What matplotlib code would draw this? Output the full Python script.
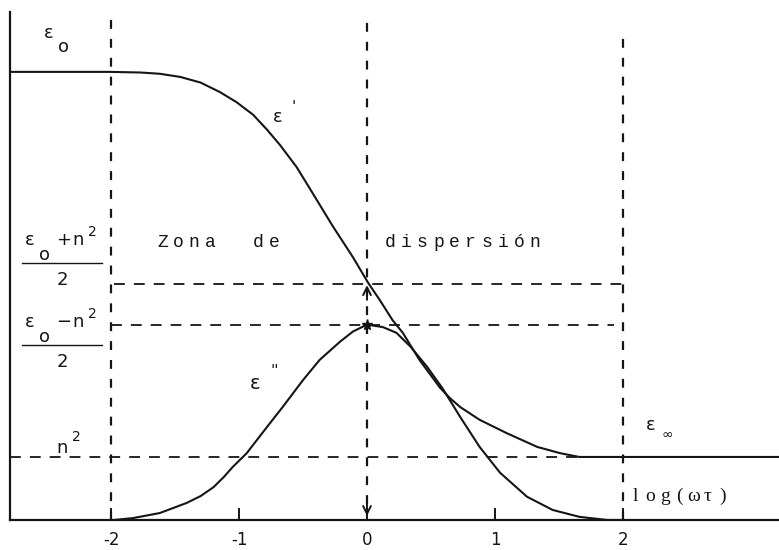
import matplotlib
matplotlib.use("Agg")
import matplotlib.pyplot as plt

# Debye dispersion sketch: ε' and ε'' against log(ωτ), n² taken as one unit.
X_TICKS = [-2, -1, 0, 1, 2]
X_TICK_LABELS = ["-2", "-1", "0", "1", "2"]

EPS_STATIC = 7.11      # ε0 plateau
EPS_OPTICAL = 1.0      # n² plateau
EPS_MID = 3.75         # (ε0+n²)/2 guide
EPS_HALF = 3.10        # (ε0-n²)/2 guide, top of the loss peak

EPS_REAL_X = [-2.79, -2.01, -1.77, -1.62, -1.46, -1.30, -1.15, -1.02, -0.89,
              -0.78, -0.68, -0.55, -0.42, -0.27, -0.11, 0.01, 0.10, 0.20,
              0.28, 0.41, 0.57, 0.65, 0.73, 0.88, 1.09, 1.33, 1.51, 1.66, 3.22]
EPS_REAL_Y = [7.11, 7.11, 7.10, 7.08, 7.03, 6.94, 6.79, 6.63, 6.43,
              6.19, 5.95, 5.60, 5.17, 4.67, 4.17, 3.76, 3.49, 3.17,
              2.97, 2.54, 2.10, 1.93, 1.79, 1.59, 1.38, 1.16, 1.06, 1.00, 1.00]

EPS_LOSS_X = [-1.98, -1.83, -1.62, -1.41, -1.30, -1.20, -1.12, -1.05, -0.94,
              -0.78, -0.66, -0.50, -0.37, -0.21, -0.11, 0.00, 0.125, 0.23, 0.34,
              0.47, 0.59, 0.73, 0.88, 1.04, 1.25, 1.45, 1.66, 1.88, 2.00]
EPS_LOSS_Y = [0.00, 0.03, 0.11, 0.27, 0.38, 0.52, 0.68, 0.84, 1.06,
              1.48, 1.79, 2.22, 2.54, 2.83, 2.99, 3.10, 3.06, 2.97, 2.75,
              2.43, 2.09, 1.63, 1.16, 0.75, 0.37, 0.16, 0.05, 0.00, 0.00]

X_LEFT, X_RIGHT = -2.79, 3.22
Y_TOP = 8.06

INK = "#151515"
MONO = "Liberation Mono"
SERIF = "Liberation Serif"


def spaced(ax, x0, y, text, step, **kw):
    """Typewriter-style text: one glyph per fixed step in data units."""
    for i, ch in enumerate(text):
        if ch != " ":
            ax.text(x0 + i * step, y, ch, ha="center", va="center", color=INK, **kw)


def label(ax, x, y, s, size=13, family="DejaVu Sans"):
    ax.text(x, y, s, ha="center", va="center", fontsize=size, family=family, color=INK)


def main():
    fig = plt.figure(figsize=(7.79, 5.50), dpi=100)
    ax = fig.add_axes([10 / 779, 30 / 550, 769 / 779, 508 / 550])
    ax.set_xlim(X_LEFT, X_RIGHT)
    ax.set_ylim(0, Y_TOP)

    for side in ("top", "right"):
        ax.spines[side].set_visible(False)
    for side in ("left", "bottom"):
        ax.spines[side].set_linewidth(1.6)
        ax.spines[side].set_color(INK)
    ax.set_yticks([])
    ax.set_xticks(X_TICKS)
    ax.set_xticklabels(X_TICK_LABELS, fontsize=12, color=INK)
    ax.tick_params(axis="x", direction="in", length=9, width=1.4, pad=8, color=INK)

    # guide lines
    hdash = dict(color=INK, lw=1.3, dashes=(6, 5))
    vdash = dict(color=INK, lw=1.6, dashes=(4, 4.5), clip_on=False)
    ax.plot([-1.98, 2.0], [EPS_MID, EPS_MID], **hdash)
    ax.plot([-2.0, 1.93], [EPS_HALF, EPS_HALF], **hdash)
    ax.plot([X_LEFT, 1.66], [EPS_OPTICAL, EPS_OPTICAL], **hdash)
    ax.plot([-2, -2], [0, 8.05], **vdash)
    ax.plot([0, 0], [0.25, 8.05], **vdash)
    ax.plot([2, 2], [0, 7.75], **vdash)

    # curves
    ax.plot(EPS_REAL_X, EPS_REAL_Y, color=INK, lw=1.5, solid_joinstyle="round")
    ax.plot(EPS_LOSS_X, EPS_LOSS_Y, color=INK, lw=1.5, solid_joinstyle="round")

    # arrow marks on the ωτ = 1 line
    arrow = dict(arrowstyle="->", lw=1.4, color=INK, mutation_scale=14)
    ax.annotate("", xy=(0, 0.02), xytext=(0, 0.35), arrowprops=arrow)
    ax.annotate("", xy=(0, EPS_MID + 0.02), xytext=(0, EPS_MID - 0.3), arrowprops=arrow)
    ax.plot([0], [EPS_HALF], marker="*", ms=8, color=INK)

    # curve labels
    label(ax, -2.49, 7.73, "ε")
    label(ax, -2.375, 7.51, "o")
    label(ax, -0.70, 6.40, "ε")
    label(ax, -0.57, 6.55, "'", size=11)
    label(ax, -0.875, 2.17, "ε", size=14)
    label(ax, -0.72, 2.35, "''", size=11)
    label(ax, 2.22, 1.51, "ε")
    label(ax, 2.35, 1.35, "∞", size=10)

    # level labels on the left
    for y0, sign in ((4.44, "+"), (3.14, "−")):
        label(ax, -2.64, y0, "ε")
        label(ax, -2.52, y0 - 0.23, "o")
        label(ax, -2.37, y0, sign)
        label(ax, -2.26, y0, "n")
        label(ax, -2.15, y0 + 0.13, "2", size=10)
        ax.plot([-2.70, -2.07], [y0 - 0.37, y0 - 0.37], color=INK, lw=1.0)
        label(ax, -2.38, y0 - 0.63, "2", size=13)
    label(ax, -2.38, 1.14, "n")
    label(ax, -2.27, 1.32, "2", size=10)

    spaced(ax, -1.60, 4.40, "Zona  de", 0.125, fontsize=13, family=MONO)
    spaced(ax, 0.18, 4.40, "dispersión", 0.126, fontsize=13, family=MONO)
    spaced(ax, 2.10, 0.37, "log(ωτ)", 0.113, fontsize=14, family=SERIF)

    fig.savefig("out.png", dpi=100)


if __name__ == "__main__":
    main()
